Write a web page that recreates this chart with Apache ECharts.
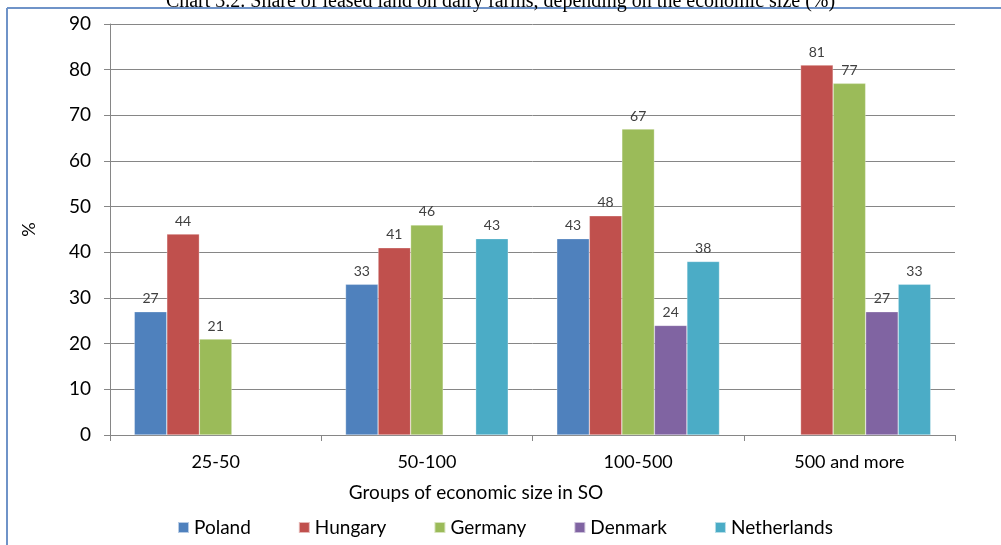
<!DOCTYPE html>
<html>
<head>
<meta charset="utf-8">
<script src="https://cdn.jsdelivr.net/npm/echarts@6/dist/echarts.min.js"></script>
<style>
  html, body { margin: 0; padding: 0; background: #ffffff; }
  #chart { width: 1001px; height: 545px; }
</style>
</head>
<body>
<div id="chart"></div>
<script>
// Economic size groups (standard output, thousand EUR)
const categories = ['25-50', '50-100', '100-500', '500 and more'];

// Share of leased land (%) per country; null = no data for that group
const poland      = [27, 33, 43, null];
const hungary     = [44, 41, 48, 81];
const germany     = [21, 46, 67, 77];
const denmark     = [null, null, 24, 27];
const netherlands = [null, 43, 38, 33];

const seriesNames = ['Poland', 'Hungary', 'Germany', 'Denmark', 'Netherlands'];
const seriesData = [poland, hungary, germany, denmark, netherlands];
const colors = ['#4F81BD', '#C0504D', '#9BBB59', '#8064A2', '#4BACC6'];

const font = 'Lato, "Open Sans", sans-serif';

const chart = echarts.init(document.getElementById('chart'), null, { renderer: 'canvas' });

chart.setOption({
  animation: false,
  color: colors,
  title: {
    text: 'Chart 3.2. Share of leased land on dairy farms, depending on the economic size (%)',
    left: 'center',
    top: -13,
    textStyle: { fontFamily: '"Liberation Serif", "Times New Roman", serif', fontSize: 20, fontWeight: 'normal', color: '#000' }
  },
  graphic: [
    { type: 'line', shape: { x1: 7, y1: 8, x2: 1001, y2: 8 }, style: { stroke: '#6f93c8', lineWidth: 2 } },
    { type: 'line', shape: { x1: 7, y1: 8, x2: 7, y2: 545 }, style: { stroke: '#6f93c8', lineWidth: 2 } }
  ],
  grid: { left: 110, right: 46, top: 24, bottom: 110, containLabel: false },
  legend: {
    data: seriesNames,
    bottom: 3,
    left: 172,
    itemWidth: 11,
    itemHeight: 11,
    itemGap: 47,
    icon: 'rect',
    textStyle: { fontFamily: font, fontSize: 19, color: '#000' }
  },
  xAxis: {
    type: 'category',
    data: categories,
    name: 'Groups of economic size in SO',
    nameLocation: 'middle',
    nameGap: 48,
    nameTextStyle: { fontFamily: font, fontSize: 19, color: '#000', padding: [0, 113, 0, 0] },
    axisLine: { lineStyle: { color: '#868686', width: 1 } },
    axisTick: { show: true, length: 6, alignWithLabel: false, lineStyle: { color: '#868686' } },
    axisLabel: { fontFamily: font, fontSize: 18, color: '#000', margin: 18 }
  },
  yAxis: {
    type: 'value',
    min: 0,
    max: 90,
    interval: 10,
    name: '%',
    nameLocation: 'middle',
    nameGap: 72,
    nameRotate: 90,
    nameTextStyle: { fontFamily: font, fontSize: 18, color: '#000' },
    axisLine: { show: true, lineStyle: { color: '#868686', width: 1 } },
    axisTick: { show: true, length: 6, lineStyle: { color: '#868686' } },
    axisLabel: { fontFamily: font, fontSize: 19, color: '#000', margin: 19 },
    splitLine: { show: true, lineStyle: { color: '#868686', width: 1 } }
  },
  series: seriesNames.map((name, i) => ({
    name: name,
    type: 'bar',
    data: seriesData[i],
    barGap: '0%',
    barCategoryGap: '23%',
    itemStyle: { color: colors[i], borderColor: 'rgba(255,255,255,0.6)', borderWidth: 0.5 },
    label: {
      show: true,
      position: 'top',
      distance: 6,
      fontFamily: font,
      fontSize: 14,
      color: '#404040'
    }
  }))
});
</script>
</body>
</html>
